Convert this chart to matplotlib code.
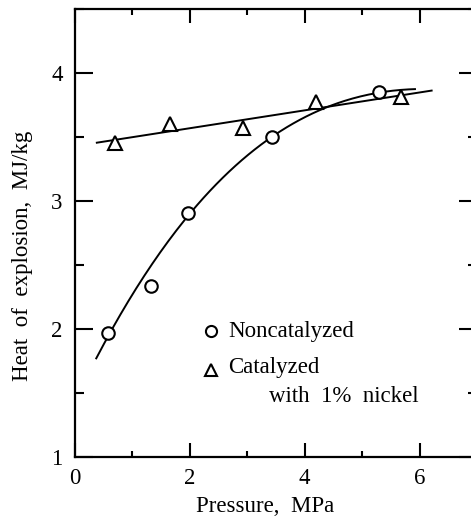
import numpy as np
import matplotlib
matplotlib.use("Agg")
import matplotlib.pyplot as plt
from matplotlib.ticker import MultipleLocator

plt.rcParams['font.family'] = ['Liberation Serif', 'DejaVu Serif']

# Data
noncat_x = [0.58, 1.32, 1.96, 3.43, 5.29]
noncat_y = [1.97, 2.335, 2.91, 3.50, 3.85]
cat_x = [0.69, 1.66, 2.92, 4.20, 5.67]
cat_y = [3.455, 3.60, 3.567, 3.77, 3.81]

# Hand-drawn smooth curve through the noncatalyzed data (knots)
curve_x = [0.37, 1.42, 1.96, 2.70, 3.43, 4.37, 5.29, 5.92]
curve_y = [1.774, 2.535, 2.911, 3.224, 3.502, 3.730, 3.847, 3.874]

# straight-line extent for catalyzed fit
cat_line_range = [0.38, 6.21]

xticks_major = [0, 2, 4, 6]
yticks_major = [1, 2, 3, 4]

legend_labels = ['Noncatalyzed', 'Catalyzed', 'with  1%  nickel']

W, H = 471, 521
L, R, B, T = 75, 477, 457, 9
XMIN, XMAX, YMIN, YMAX = 0, 7, 1, 4.5

def px2data(px, py):
    return (XMIN + (px - L) / (R - L) * (XMAX - XMIN),
            YMIN + (B - py) / (B - T) * (YMAX - YMIN))

fig = plt.figure(figsize=(W / 100, H / 100), dpi=100)
ax = fig.add_axes([L / W, (H - B) / H, (R - L) / W, (B - T) / H])

# curve via cubic fit of the knots
cc = np.polyfit(curve_x, curve_y, 3)
xs = np.linspace(curve_x[0], curve_x[-1], 200)
ax.plot(xs, np.polyval(cc, xs), color='black', lw=1.4, zorder=2)

# linear fit for catalyzed
lc = np.polyfit(cat_x, cat_y, 1)
xl = np.array(cat_line_range)
ax.plot(xl, np.polyval(lc, xl), color='black', lw=1.4, zorder=2)

ax.plot(noncat_x, noncat_y, linestyle='none', marker='o', ms=9, mfc='white',
        mec='black', mew=1.5, zorder=3)
ax.plot(cat_x, cat_y, linestyle='none', marker='^', ms=9.5, mfc='white',
        mec='black', mew=1.5, zorder=3)

ax.set_xlim(XMIN, XMAX)
ax.set_ylim(YMIN, YMAX)
ax.xaxis.set_minor_locator(MultipleLocator(1))
ax.yaxis.set_minor_locator(MultipleLocator(0.5))
ax.set_xticks(xticks_major)
ax.set_yticks(yticks_major)

ax.tick_params(which='both', direction='in', top=True, right=True, width=1.5,
               labelsize=16.5)
ax.tick_params(axis='x', which='major', length=10, pad=8)
ax.tick_params(axis='x', which='minor', length=4.5)
ax.tick_params(axis='y', which='major', length=13, pad=9)
ax.tick_params(axis='y', which='minor', length=6.5)

for s in ax.spines.values():
    s.set_linewidth(1.6)

ax.set_xlabel('Pressure,  MPa', fontsize=16.5)
ax.set_ylabel('Heat  of  explosion,  MJ/kg', fontsize=16.5)
ax.xaxis.set_label_coords((265 - L) / (R - L), (B - 496) / (B - T))
ax.yaxis.set_label_coords((33 - L) / (R - L), (B - 256) / (B - T))

# legend drawn as markers + text
mx, my1 = px2data(211, 331)
_, my2 = px2data(211, 370)
ax.plot([mx], [my1], linestyle='none', marker='o', ms=8, mfc='white',
        mec='black', mew=1.5)
ax.plot([mx], [my2], linestyle='none', marker='^', ms=9, mfc='white',
        mec='black', mew=1.5)
tx, ty1 = px2data(228, 331)
_, ty2 = px2data(228, 368)
tx3, ty3 = px2data(269, 397)
ax.text(tx, ty1, legend_labels[0], fontsize=16.5, va='center', ha='left')
ax.text(tx, ty2, legend_labels[1], fontsize=16.5, va='center', ha='left')
ax.text(tx3, ty3, legend_labels[2], fontsize=16.5, va='center', ha='left')

fig.savefig('out.png', dpi=100)
